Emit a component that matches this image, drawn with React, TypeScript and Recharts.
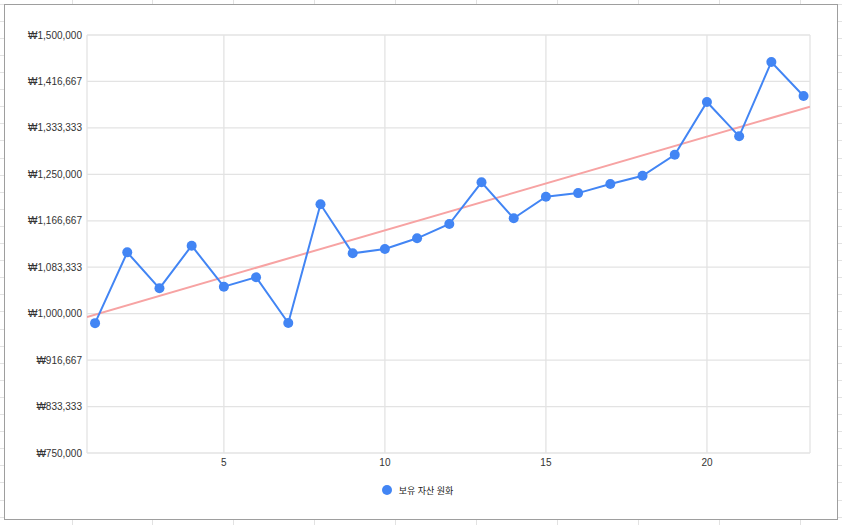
import React from "react";
import {
  ComposedChart,
  Line,
  XAxis,
  YAxis,
  CartesianGrid,
  Legend,
} from "recharts";

// x positions (row number) and the held-asset value in KRW
const periods = [
  1, 2, 3, 4, 5, 6, 7, 8, 9, 10, 11, 12, 13, 14, 15, 16, 17, 18, 19, 20, 21, 22, 23,
];
const assetKrw = [
  983000, 1110000, 1045500, 1122000, 1048400, 1065300, 983200, 1196200, 1108300,
  1116000, 1135200, 1160900, 1235700, 1171100, 1209900, 1216300, 1232700, 1247500,
  1285200, 1379800, 1318200, 1451600, 1390600,
];
const seriesName = "보유 자산 원화";
const xTicks = [5, 10, 15, 20];
const yTicks = [
  750000, 833333.333, 916666.667, 1000000, 1083333.333, 1166666.667, 1250000,
  1333333.333, 1416666.667, 1500000,
];

const X_MIN = 0.75;
const X_MAX = 23.2;

const rows = periods.map((x, i) => ({ x, value: assetKrw[i] }));

// linear trendline (least squares) like the sheet's trendline
const n = periods.length;
const mx = periods.reduce((a, b) => a + b, 0) / n;
const my = assetKrw.reduce((a, b) => a + b, 0) / n;
let sxy = 0;
let sxx = 0;
periods.forEach((x, i) => {
  sxy += (x - mx) * (assetKrw[i] - my);
  sxx += (x - mx) * (x - mx);
});
const slope = sxy / sxx;
const intercept = my - slope * mx;
const trendRows = [X_MIN, X_MAX].map((x) => ({ x, trend: intercept + slope * x }));

const FONT = '"Liberation Sans", Arial, "Noto Sans CJK KR", sans-serif';
const BLUE = "#4285f4";

const colLines = Array.from({ length: 10 }, (_, k) => 71.5 + 80.9 * k);
const rowLines = Array.from({ length: 31 }, (_, k) => 3.6 + 17.1 * k);

function fmtWon(v: number) {
  return "₩" + Math.round(v).toLocaleString("en-US");
}

function LegendBox() {
  return (
    <div
      style={{
        display: "flex",
        justifyContent: "center",
        alignItems: "center",
        height: 30,
        paddingLeft: 20,
        fontSize: 9,
        color: "#222",
        fontFamily: FONT,
      }}
    >
      <span
        style={{
          width: 10,
          height: 10,
          borderRadius: 5,
          background: BLUE,
          display: "inline-block",
          marginRight: 7,
        }}
      />
      <span>{seriesName}</span>
    </div>
  );
}

export default function App() {
  return (
    <div
      style={{
        position: "absolute",
        left: 0,
        top: 0,
        width: 842,
        height: 525,
        background: "#fff",
        overflow: "hidden",
        fontFamily: FONT,
      }}
    >
      {colLines.map((x) => (
        <div
          key={"c" + x}
          style={{ position: "absolute", left: x, top: 0, width: 1, height: 525, background: "#e2e2e2" }}
        />
      ))}
      {rowLines.map((y) => (
        <div
          key={"r" + y}
          style={{ position: "absolute", left: 0, top: y, width: 842, height: 1, background: "#e2e2e2" }}
        />
      ))}
      <div
        style={{
          position: "absolute",
          left: 4,
          top: 4,
          width: 834,
          height: 516,
          boxSizing: "border-box",
          border: "1px solid #9e9e9e",
          background: "#fff",
        }}
      >
        <ComposedChart
          width={832}
          height={514}
          data={rows}
          margin={{ top: 30, right: 27, bottom: 14, left: 0 }}
        >
          <CartesianGrid stroke="#e3e3e3" strokeWidth={1.3} />
          <XAxis
            type="number"
            dataKey="x"
            domain={[X_MIN, X_MAX]}
            ticks={xTicks}
            allowDataOverflow
            axisLine={false}
            tickLine={false}
            tickSize={4}
            tickMargin={2}
            height={22}
            tick={{ fontSize: 10, fill: "#333", fontFamily: FONT }}
          />
          <YAxis
            type="number"
            domain={[750000, 1500000]}
            ticks={yTicks}
            allowDataOverflow
            axisLine={false}
            tickLine={false}
            tickSize={5}
            tickMargin={0}
            width={82}
            tickFormatter={fmtWon}
            tick={{ fontSize: 10, fill: "#333", fontFamily: FONT }}
          />
          <Legend verticalAlign="bottom" content={() => <LegendBox />} />
          <Line
            data={trendRows}
            dataKey="trend"
            type="linear"
            stroke="#f7a3a3"
            strokeWidth={2}
            dot={false}
            activeDot={false}
            legendType="none"
            isAnimationActive={false}
          />
          <Line
            dataKey="value"
            name={seriesName}
            type="linear"
            stroke={BLUE}
            strokeWidth={2}
            dot={{ r: 5, fill: BLUE, stroke: BLUE, strokeWidth: 0 }}
            activeDot={false}
            isAnimationActive={false}
          />
        </ComposedChart>
      </div>
    </div>
  );
}
